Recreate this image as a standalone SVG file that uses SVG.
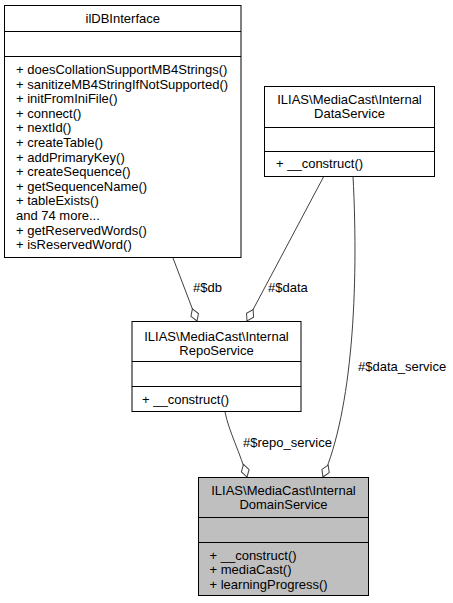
<svg xmlns="http://www.w3.org/2000/svg" width="453" height="603" viewBox="0 0 453 603">
<style>
.box{fill:#ffffff;stroke:#000000;stroke-width:1}
.cur{fill:#bfbfbf}
.sep{stroke:#000000;stroke-width:1}
text{font-family:"Liberation Sans",Arial,Helvetica,sans-serif;font-size:13px;fill:#000000}
.c{text-anchor:middle}
.edge{fill:none;stroke:#404040;stroke-width:1;marker-end:url(#odiamond)}
</style>
<defs>
<marker id="odiamond" markerUnits="userSpaceOnUse" markerWidth="16" markerHeight="10" viewBox="-1 -5 16 10" refX="13" refY="0" orient="auto">
<path d="M0,0 L6.5,-4 L13,0 L6.5,4 Z" fill="#ffffff" stroke="#404040" stroke-width="1"/>
</marker>
</defs>
<rect width="453" height="603" fill="#ffffff"/>

<g id="edges">
<path class="edge" d="M173,258 L197,321"/>
<text x="193" y="292">#$db</text>
<path class="edge" d="M324,176 L247,321"/>
<text x="268" y="292">#$data</text>
<path class="edge" d="M225,412 C229,432 240,452 247,477"/>
<text x="243" y="446.5">#$repo_service</text>
<path class="edge" d="M353,176 C359,290 352,410 323,477"/>
<text x="358" y="370.5">#$data_service</text>
</g>

<g id="ilDBInterface">
<rect class="box" x="4.5" y="5.5" width="236.5" height="252"/>
<line class="sep" x1="4.5" y1="31.5" x2="241" y2="31.5"/>
<line class="sep" x1="4.5" y1="56.5" x2="241" y2="56.5"/>
<text class="c" x="122.75" y="22.5">ilDBInterface</text>
<text x="16" y="74">+ doesCollationSupportMB4Strings()</text>
<text x="16" y="88.6">+ sanitizeMB4StringIfNotSupported()</text>
<text x="16" y="103.2">+ initFromIniFile()</text>
<text x="16" y="117.8">+ connect()</text>
<text x="16" y="132.4">+ nextId()</text>
<text x="16" y="147">+ createTable()</text>
<text x="16" y="161.6">+ addPrimaryKey()</text>
<text x="16" y="176.2">+ createSequence()</text>
<text x="16" y="190.8">+ getSequenceName()</text>
<text x="16" y="205.4">+ tableExists()</text>
<text x="16" y="220">and 74 more...</text>
<text x="16" y="234.6">+ getReservedWords()</text>
<text x="16" y="249.2">+ isReservedWord()</text>
</g>

<g id="DataService">
<rect class="box" x="264.5" y="86.5" width="170" height="90"/>
<line class="sep" x1="264.5" y1="127.5" x2="434.5" y2="127.5"/>
<line class="sep" x1="264.5" y1="151.5" x2="434.5" y2="151.5"/>
<text class="c" x="349.5" y="103.5">ILIAS\MediaCast\Internal</text>
<text class="c" x="349.5" y="118">DataService</text>
<text x="276" y="168">+ __construct()</text>
</g>

<g id="RepoService">
<rect class="box" x="132" y="321.5" width="169" height="90"/>
<line class="sep" x1="132" y1="361.5" x2="301" y2="361.5"/>
<line class="sep" x1="132" y1="386.5" x2="301" y2="386.5"/>
<text class="c" x="216.5" y="340.5">ILIAS\MediaCast\Internal</text>
<text class="c" x="216.5" y="355">RepoService</text>
<text x="142" y="403.5">+ __construct()</text>
</g>

<g id="DomainService">
<rect class="box cur" x="198.5" y="477.5" width="170" height="118"/>
<line class="sep" x1="198.5" y1="517.5" x2="368.5" y2="517.5"/>
<line class="sep" x1="198.5" y1="542.5" x2="368.5" y2="542.5"/>
<text class="c" x="283.5" y="495">ILIAS\MediaCast\Internal</text>
<text class="c" x="283.5" y="509">DomainService</text>
<text x="209.5" y="559.5">+ __construct()</text>
<text x="209.5" y="574">+ mediaCast()</text>
<text x="209.5" y="588.5">+ learningProgress()</text>
</g>
</svg>
